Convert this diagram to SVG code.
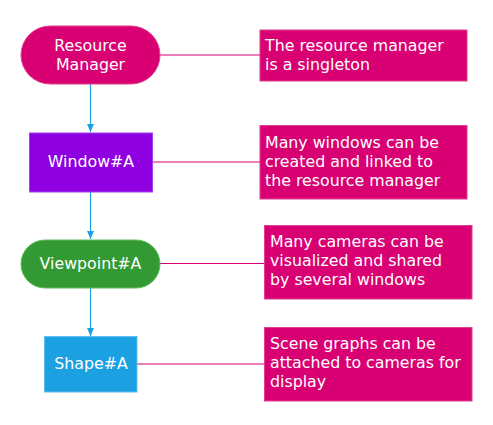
<svg xmlns="http://www.w3.org/2000/svg" width="493" height="425" viewBox="0 0 493 425">
<style>
text{font-family:"DejaVu Sans",Verdana,sans-serif;font-size:15.8px;fill:#fff}
.c{text-anchor:middle}
.note{fill:#d80073;stroke:#e0408f;stroke-width:1}
.link{stroke:#d80073;stroke-width:1.2;fill:none}
.flow{stroke:#1ba1e2;stroke-width:1.2;fill:none;marker-end:url(#ah)}
</style>
<defs>
<marker id="ah" viewBox="0 0 8 7" refX="8" refY="3.5" markerWidth="8" markerHeight="7" markerUnits="userSpaceOnUse" orient="auto">
<path d="M0,0 L8,3.5 L0,7 Z" fill="#1ba1e2"/>
</marker>
</defs>
<g id="connectors">
<line class="link" x1="160" y1="55" x2="260" y2="55"/>
<line class="link" x1="152" y1="162" x2="260" y2="162"/>
<line class="link" x1="160" y1="263.5" x2="264" y2="263.5"/>
<line class="link" x1="137" y1="364" x2="264" y2="364"/>
<line class="flow" x1="90.5" y1="84" x2="90.5" y2="132"/>
<line class="flow" x1="90.5" y1="192" x2="90.5" y2="239"/>
<line class="flow" x1="90.5" y1="288" x2="90.5" y2="336"/>
</g>
<g id="resource-manager">
<rect x="21" y="26" width="139" height="58" rx="29" ry="29" fill="#d80073" stroke="#e0408f" stroke-width="1"/>
<text class="c" x="90.5" y="51">Resource</text>
<text class="c" x="90.5" y="70">Manager</text>
</g>
<g id="window-a">
<rect x="29.5" y="133" width="123" height="59" fill="#8f00e0" stroke="#a040f0" stroke-width="1"/>
<text class="c" x="91" y="167">Window#A</text>
</g>
<g id="viewpoint-a">
<rect x="21" y="240" width="139" height="48" rx="24" ry="24" fill="#339933" stroke="#5cb85c" stroke-width="1"/>
<text class="c" x="90.5" y="269">Viewpoint#A</text>
</g>
<g id="shape-a">
<rect x="44.5" y="336.5" width="92.5" height="55.5" fill="#1ba1e2" stroke="#60c0f0" stroke-width="1"/>
<text class="c" x="91" y="369">Shape#A</text>
</g>
<g id="note-1">
<rect class="note" x="260" y="30" width="207" height="51"/>
<text x="265" y="51">The resource manager</text>
<text x="265" y="70">is a singleton</text>
</g>
<g id="note-2">
<rect class="note" x="260" y="125.5" width="207" height="73.5"/>
<text x="265" y="148">Many windows can be</text>
<text x="265" y="167">created and linked to</text>
<text x="265" y="186">the resource manager</text>
</g>
<g id="note-3">
<rect class="note" x="264.5" y="225.5" width="207.5" height="73.5"/>
<text x="270" y="247">Many cameras can be</text>
<text x="270" y="266">visualized and shared</text>
<text x="270" y="285">by several windows</text>
</g>
<g id="note-4">
<rect class="note" x="264.5" y="327.5" width="207.5" height="73.5"/>
<text x="270" y="349">Scene graphs can be</text>
<text x="270" y="368">attached to cameras for</text>
<text x="270" y="387">display</text>
</g>
</svg>
